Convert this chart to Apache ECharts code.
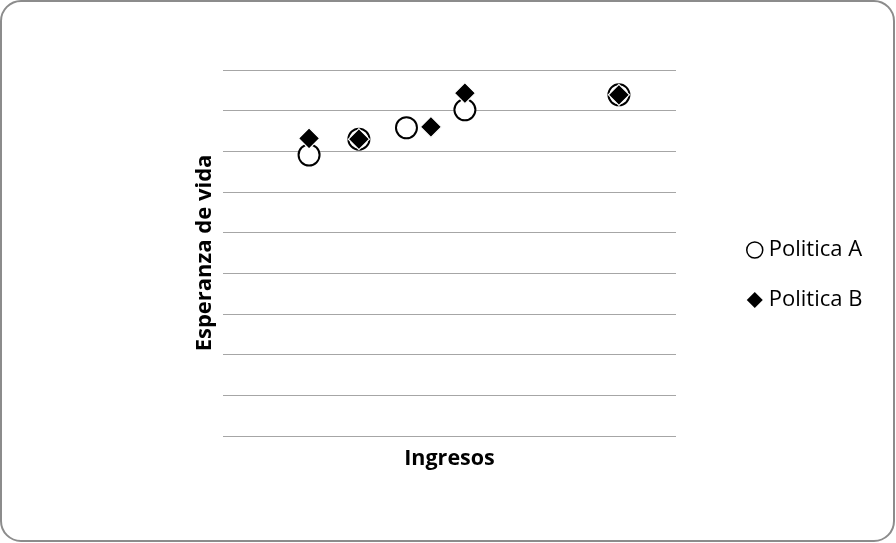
<!DOCTYPE html>
<html>
<head>
<meta charset="utf-8">
<script src="https://cdn.jsdelivr.net/npm/echarts@6/dist/echarts.min.js"></script>
<style>
  html, body { margin: 0; padding: 0; background: #ffffff; }
  #chart { width: 896px; height: 543px; }
</style>
</head>
<body>
<div id="chart"></div>
<script>
// Income vs. life expectancy under two policies
const seriesNames = ['Politica A', 'Politica B'];
const incomeA = [19, 30, 40.5, 53.4, 87.4];
const lifeA   = [69.1, 73.0, 75.8, 80.2, 83.9];
const incomeB = [19, 30, 45.9, 53.4, 87.4];
const lifeB   = [73.2, 73.0, 76.0, 84.3, 83.9];

const pairs = (xs, ys) => xs.map((x, i) => [x, ys[i]]);
const titleFont = '"Open Sans", "Liberation Sans", sans-serif';

const chart = echarts.init(document.getElementById('chart'), null, { renderer: 'canvas' });
chart.setOption({
  animation: false,
  backgroundColor: '#ffffff',
  graphic: [{
    type: 'rect',
    z: -10,
    shape: { x: 1, y: 1, width: 893, height: 540, r: 20 },
    style: { fill: '#ffffff', stroke: '#8c8c8c', lineWidth: 2 }
  }],
  grid: { left: 223, right: 220, top: 70, bottom: 107 },
  legend: {
    orient: 'vertical',
    left: 741,
    top: 234,
    itemWidth: 16,
    itemHeight: 16,
    itemGap: 28,
    textStyle: { fontFamily: titleFont, fontSize: 22, lineHeight: 20, color: '#000000', padding: [0, 0, 0, 1] },
    data: [
      { name: seriesNames[0], icon: 'circle', itemStyle: { color: '#ffffff', borderColor: '#000000', borderWidth: 1.5 } },
      { name: seriesNames[1], icon: 'diamond', itemStyle: { color: '#000000', borderWidth: 0 } }
    ]
  },
  xAxis: {
    type: 'value',
    min: 0, max: 100,
    name: 'Ingresos',
    nameLocation: 'middle',
    nameGap: 12,
    nameTextStyle: { fontFamily: titleFont, fontSize: 21.5, fontWeight: 'bold', color: '#000000', verticalAlign: 'top' },
    axisLine: { show: false },
    axisTick: { show: false },
    axisLabel: { show: false },
    splitLine: { show: false }
  },
  yAxis: {
    type: 'value',
    min: 0, max: 90, interval: 10,
    name: 'Esperanza de vida',
    nameLocation: 'middle',
    nameGap: 7,
    nameTextStyle: { fontFamily: titleFont, fontSize: 22, fontWeight: 'bold', color: '#000000', verticalAlign: 'bottom' },
    axisLine: { show: false },
    axisTick: { show: false },
    axisLabel: { show: false },
    splitLine: { show: true, lineStyle: { color: '#a6a6a6', width: 1 } }
  },
  series: [
    {
      name: seriesNames[0],
      type: 'scatter',
      symbol: 'circle',
      symbolSize: 21,
      z: 2,
      itemStyle: { color: '#ffffff', borderColor: '#000000', borderWidth: 2, opacity: 1 },
      data: pairs(incomeA, lifeA)
    },
    {
      name: seriesNames[1],
      type: 'scatter',
      symbol: 'diamond',
      symbolSize: 21,
      z: 3,
      itemStyle: { color: '#000000', borderColor: '#ffffff', borderWidth: 1.2, opacity: 1 },
      data: pairs(incomeB, lifeB)
    }
  ]
});
</script>
</body>
</html>
